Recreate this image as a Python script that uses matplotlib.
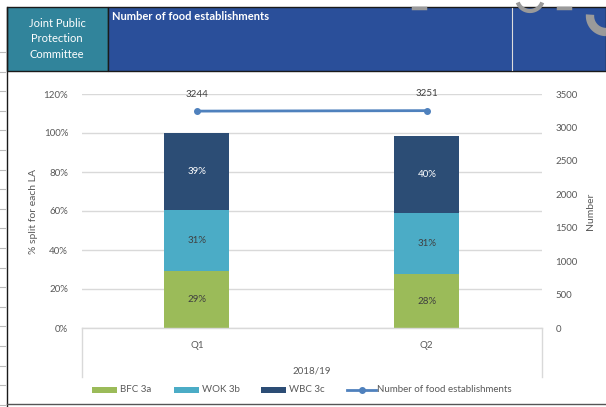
import numpy as np
import matplotlib
matplotlib.use("Agg")
import matplotlib.pyplot as plt
from matplotlib.patches import Rectangle
from matplotlib.lines import Line2D

plt.rcParams['font.family'] = ['Lato', 'DejaVu Sans']

quarters = ['Q1', 'Q2']
period = '2018/19'
bfc_3a = [29.4, 27.6]
wok_3b = [31.0, 31.2]
wbc_3c = [39.4, 39.6]
bfc_lbl = ['29%', '28%']
wok_lbl = ['31%', '31%']
wbc_lbl = ['39%', '40%']
establishments = [3244, 3251]

W, H = 606, 407
fig = plt.figure(figsize=(W / 100, H / 100), dpi=100)

def fx(px):
    return px / W

def fy(py):
    return 1 - py / H

def arc_line(cx, cy, r, a0, a1, lw):
    # a0/a1 in degrees, screen pixels with y going down
    t = np.radians(np.linspace(a0, a1, 40))
    xs = [fx(cx + r * np.cos(a)) for a in t]
    ys = [fy(cy + r * np.sin(a)) for a in t]
    fig.add_artist(Line2D(xs, ys, color='#9a9a9a', lw=lw, solid_capstyle='butt'))

# header band
fig.patches.append(Rectangle((fx(7), fy(71)), fx(101), (71 - 7) / H, transform=fig.transFigure,
                             facecolor='#31849B', edgecolor='#1a1a1a', lw=1))
fig.patches.append(Rectangle((fx(108), fy(71)), fx(498), (71 - 7) / H, transform=fig.transFigure,
                             facecolor='#2A4F9A', edgecolor='#1a1a1a', lw=1))
fig.add_artist(Line2D([fx(512), fx(512)], [fy(8), fy(70)], color='#dddddd', lw=0.8))
# bits of a logo poking into the header
arc_line(606, 16, 16, 90, 185, 6)
arc_line(530, -2, 13, 20, 160, 3)
for x0, x1 in [(413, 425), (558, 570)]:
    fig.add_artist(Line2D([fx(x0), fx(x1)], [fy(8), fy(8)], color='#9a9a9a', lw=2.5))
fig.text(fx(57), fy(39), 'Joint Public\nProtection\nCommittee', color='white', fontsize=8,
         ha='center', va='center', linespacing=1.55)
fig.text(fx(112), fy(17), 'Number of food establishments', color='white', fontsize=8,
         fontweight='bold', ha='left', va='center')

# frame lines
fig.add_artist(Line2D([fx(7), fx(7)], [fy(7), fy(407)], color='#1a1a1a', lw=1))
fig.add_artist(Line2D([fx(7), fx(606)], [fy(404), fy(404)], color='#555555', lw=1))
for yy in np.arange(52, 407, 19.6):
    fig.add_artist(Line2D([fx(0), fx(5)], [fy(yy), fy(yy)], color='#bbbbbb', lw=0.8))

# main axes
ax = fig.add_axes([fx(82), fy(328), fx(541.7 - 82), (328 - 94) / H])
x = np.arange(len(quarters))
bw = 0.283
ax.bar(x, bfc_3a, bw, color='#9BBB59', zorder=3)
ax.bar(x, wok_3b, bw, bottom=bfc_3a, color='#4BACC6', zorder=3)
bottom3 = [a + b for a, b in zip(bfc_3a, wok_3b)]
ax.bar(x, wbc_3c, bw, bottom=bottom3, color='#2C4D75', zorder=3)
for i in range(len(quarters)):
    ax.text(x[i], bfc_3a[i] / 2, bfc_lbl[i], ha='center', va='center', fontsize=7, color='#404040', zorder=4)
    ax.text(x[i], bfc_3a[i] + wok_3b[i] / 2, wok_lbl[i], ha='center', va='center', fontsize=7,
            color='#404040', zorder=4)
    ax.text(x[i], bottom3[i] + wbc_3c[i] / 2, wbc_lbl[i], ha='center', va='center', fontsize=7,
            color='white', zorder=4)

ax.set_xlim(-0.5, 1.5)
ax.set_ylim(0, 120)
ax.set_yticks(np.arange(0, 121, 20))
ax.set_yticklabels([f'{v}%' for v in range(0, 121, 20)])
ax.yaxis.grid(True, color='#d9d9d9', lw=1, zorder=0)
ax.set_xticks([])
for s in ax.spines.values():
    s.set_visible(False)
ax.tick_params(axis='y', length=0, labelsize=7, labelcolor='#595959', pad=10)
ax.set_ylabel('% split for each LA', fontsize=7.5, color='#595959', labelpad=4)

ax2 = ax.twinx()
ax2.plot(x, establishments, color='#4F81BD', lw=2, marker='o', ms=4, zorder=5)
for i, v in enumerate(establishments):
    ax2.annotate(str(v), (x[i], v), xytext=(0, 9), textcoords='offset points', ha='center',
                 va='bottom', fontsize=7, color='#404040')
ax2.set_ylim(0, 3500)
ax2.set_yticks(np.arange(0, 3501, 500))
for s in ax2.spines.values():
    s.set_visible(False)
ax2.tick_params(axis='y', length=0, labelsize=7, labelcolor='#595959', pad=10)
ax2.set_ylabel('Number', fontsize=7.5, color='#595959', labelpad=6)

# category axis box
for xx in (82, 541.7):
    fig.add_artist(Line2D([fx(xx), fx(xx)], [fy(328), fy(377)], color='#d9d9d9', lw=1))
fig.add_artist(Line2D([fx(82), fx(541.7)], [fy(328), fy(328)], color='#d9d9d9', lw=1))
for i, q in enumerate(quarters):
    fig.text(fx(82 + (i + 0.5) * (541.7 - 82) / 2), fy(346), q, ha='center', va='center',
             fontsize=7, color='#595959')
fig.text(fx(311.8), fy(371), period, ha='center', va='center', fontsize=7, color='#595959')

# legend
leg_items = [(92, '#9BBB59', 'BFC 3a'), (174, '#4BACC6', 'WOK 3b'), (261, '#2C4D75', 'WBC 3c')]
for x0, c, lab in leg_items:
    fig.patches.append(Rectangle((fx(x0), fy(393)), fx(25), 6 / H, transform=fig.transFigure,
                                 facecolor=c, edgecolor='none'))
    fig.text(fx(x0 + 28), fy(390), lab, ha='left', va='center', fontsize=7, color='#595959')
fig.add_artist(Line2D([fx(347), fx(376)], [fy(390), fy(390)], color='#4F81BD', lw=2))
fig.add_artist(Line2D([fx(361.5)], [fy(390)], color='#4F81BD', marker='o', ms=4))
fig.text(fx(377), fy(390), 'Number of food establishments', ha='left', va='center', fontsize=7,
         color='#595959')

fig.savefig('out.png', dpi=100)
